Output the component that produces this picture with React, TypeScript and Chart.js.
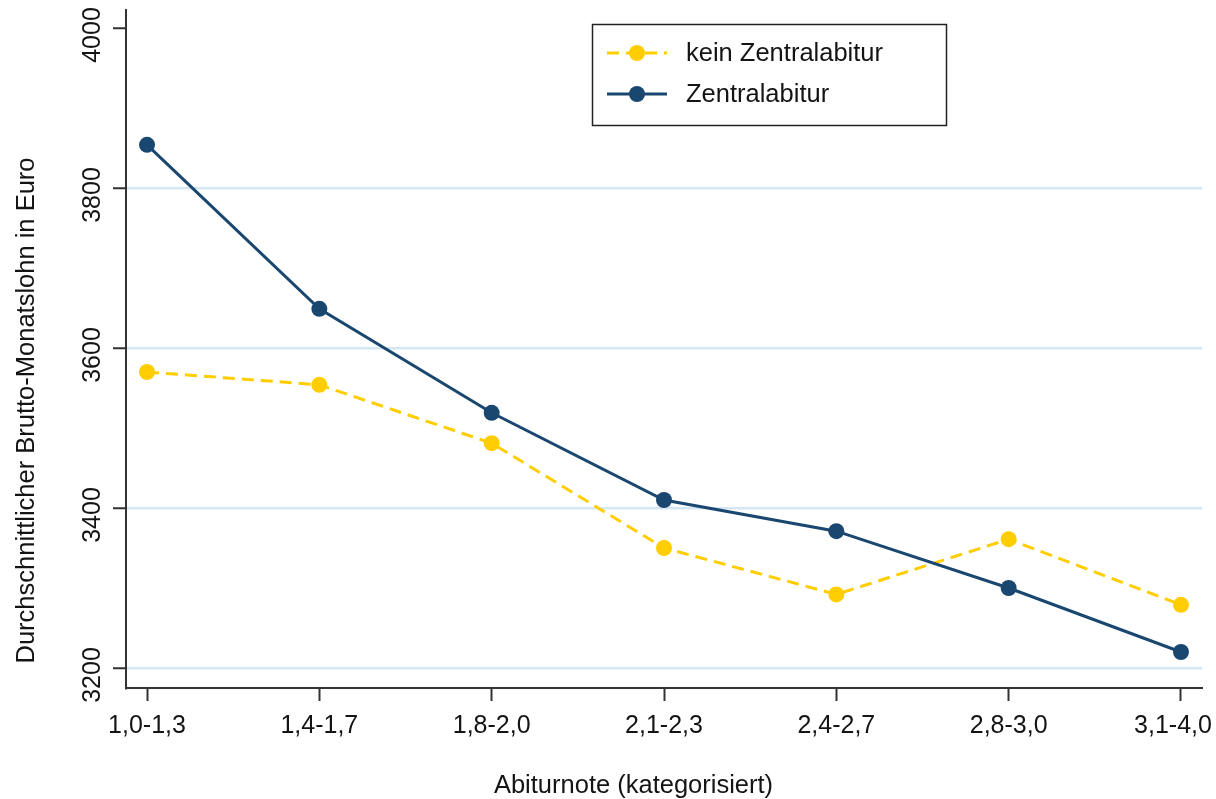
import React, { useEffect, useRef } from "react";
import { Chart, registerables } from "chart.js";

Chart.register(...registerables);

const categories = ["1,0-1,3", "1,4-1,7", "1,8-2,0", "2,1-2,3", "2,4-2,7", "2,8-3,0", "3,1-4,0"];
const keinZentralabitur = [3570, 3554, 3481, 3350, 3292, 3361, 3279];
const zentralabitur = [3854, 3649, 3519, 3410, 3371, 3300, 3220];
const yTicks = [3200, 3400, 3600, 3800, 4000];
const seriesNames = ["kein Zentralabitur", "Zentralabitur"];
const yTitle = "Durchschnittlicher Brutto-Monatslohn in Euro";
const xTitle = "Abiturnote (kategorisiert)";

const FONT = "'Liberation Sans', Arial, Helvetica, sans-serif";
const FS = 25.5;
const TFS = 25;
const GOLD = "#ffcd00";
const NAVY = "#1a476f";
const TEXT = "#141414";

const overlayPlugin = {
  id: "overlay",
  beforeDraw(chart: any) {
    // keep the last x label inside the canvas, as in the reference
    const xs = chart.scales.x;
    const items = xs.getLabelItems(chart.chartArea);
    const last = items[items.length - 1];
    if (last && !last._shifted) {
      last.options.translation[0] -= 8;
      last._shifted = true;
    }
  },
  afterDraw(chart: any) {
    const ctx = chart.ctx;
    ctx.save();
    ctx.fillStyle = TEXT;
    ctx.font = `${FS}px ${FONT}`;
    // y title
    ctx.save();
    ctx.translate(34, 410.5);
    ctx.rotate(-Math.PI / 2);
    ctx.textAlign = "center";
    ctx.textBaseline = "alphabetic";
    ctx.fillText(yTitle, 0, 0);
    ctx.restore();
    // x title
    ctx.textAlign = "center";
    ctx.textBaseline = "alphabetic";
    ctx.fillText(xTitle, 633.5, 793);

    // legend
    ctx.strokeStyle = "#222";
    ctx.lineWidth = 1.5;
    ctx.strokeRect(592.5, 24.5, 354, 101);
    const rows = [53, 94];
    chart.data.datasets.forEach((ds: any, i: number) => {
      const y = rows[i];
      ctx.save();
      ctx.strokeStyle = ds.borderColor;
      ctx.lineWidth = ds.borderWidth;
      ctx.setLineDash(ds.borderDash || []);
      ctx.beginPath();
      ctx.moveTo(607, y);
      ctx.lineTo(667, y);
      ctx.stroke();
      ctx.setLineDash([]);
      ctx.fillStyle = ds.pointBackgroundColor;
      ctx.beginPath();
      ctx.arc(637, y, ds.pointRadius, 0, Math.PI * 2);
      ctx.fill();
      ctx.restore();
      ctx.fillStyle = TEXT;
      ctx.textAlign = "left";
      ctx.textBaseline = "middle";
      ctx.fillText(ds.label, 686, y + 1);
    });
    ctx.restore();
  },
};

export default function App() {
  const ref = useRef<HTMLCanvasElement>(null);
  useEffect(() => {
    if (!ref.current) return;
    const chart = new Chart(ref.current, {
      type: "line",
      data: {
        datasets: [
          {
            label: seriesNames[0],
            data: keinZentralabitur.map((v, i) => ({ x: i, y: v })),
            borderColor: GOLD,
            backgroundColor: GOLD,
            pointBackgroundColor: GOLD,
            borderWidth: 3,
            borderDash: [12, 7],
            pointRadius: 8,
            pointBorderWidth: 0,
            order: 1,
          },
          {
            label: seriesNames[1],
            data: zentralabitur.map((v, i) => ({ x: i, y: v })),
            borderColor: NAVY,
            backgroundColor: NAVY,
            pointBackgroundColor: NAVY,
            borderWidth: 3,
            pointRadius: 8,
            pointBorderWidth: 0,
            order: 0,
          },
        ],
      },
      options: {
        responsive: false,
        animation: false,
        layout: { padding: { left: 0, right: 14, top: 10, bottom: 0 } },
        plugins: { legend: { display: false }, tooltip: { enabled: false } },
        scales: {
          x: {
            type: "linear",
            min: -0.122,
            max: 6.122,
            afterBuildTicks: (s: any) => {
              s.ticks = categories.map((_, i) => ({ value: i }));
            },
            afterFit: (s: any) => {
              s.height = 111;
              s.paddingLeft = 0;
              s.paddingRight = 0;
            },
            ticks: {
              callback: (v: any) => categories[v] ?? "",
              font: { size: TFS, family: FONT },
              color: TEXT,
              padding: 10,
              maxRotation: 0,
              minRotation: 0,
              autoSkip: false,
            },
            grid: {
              drawOnChartArea: false,
              drawTicks: true,
              tickLength: 13,
              tickColor: "#333",
              tickWidth: 2,
            },
            border: { color: "#333", width: 2 },
          },
          y: {
            type: "linear",
            min: 3175,
            max: 4022.5,
            afterBuildTicks: (s: any) => {
              s.ticks = yTicks.map((v) => ({ value: v }));
            },
            afterFit: (s: any) => {
              s.width = 126;
              s.paddingTop = 0;
              s.paddingBottom = 0;
            },
            ticks: {
              callback: (v: any) => String(v),
              font: { size: TFS, family: FONT },
              color: TEXT,
              minRotation: 90,
              maxRotation: 90,
              crossAlign: "center",
              padding: -8.2,
              labelOffset: 7,
              autoSkip: false,
            },
            grid: {
              color: (c: any) => (c.tick && c.tick.value === 4000 ? "rgba(0,0,0,0)" : "#d5e7f3"),
              lineWidth: 2.5,
              drawTicks: true,
              tickLength: 13,
              tickColor: "#333",
              tickWidth: 2,
            },
            border: { color: "#333", width: 2 },
          },
        },
      },
      plugins: [overlayPlugin],
    } as any);
    return () => chart.destroy();
  }, []);
  return (
    <div style={{ position: "absolute", left: 0, top: 0, width: 1216, height: 799, background: "#fff" }}>
      <canvas ref={ref} width={1216} height={799} style={{ display: "block" }} />
    </div>
  );
}
